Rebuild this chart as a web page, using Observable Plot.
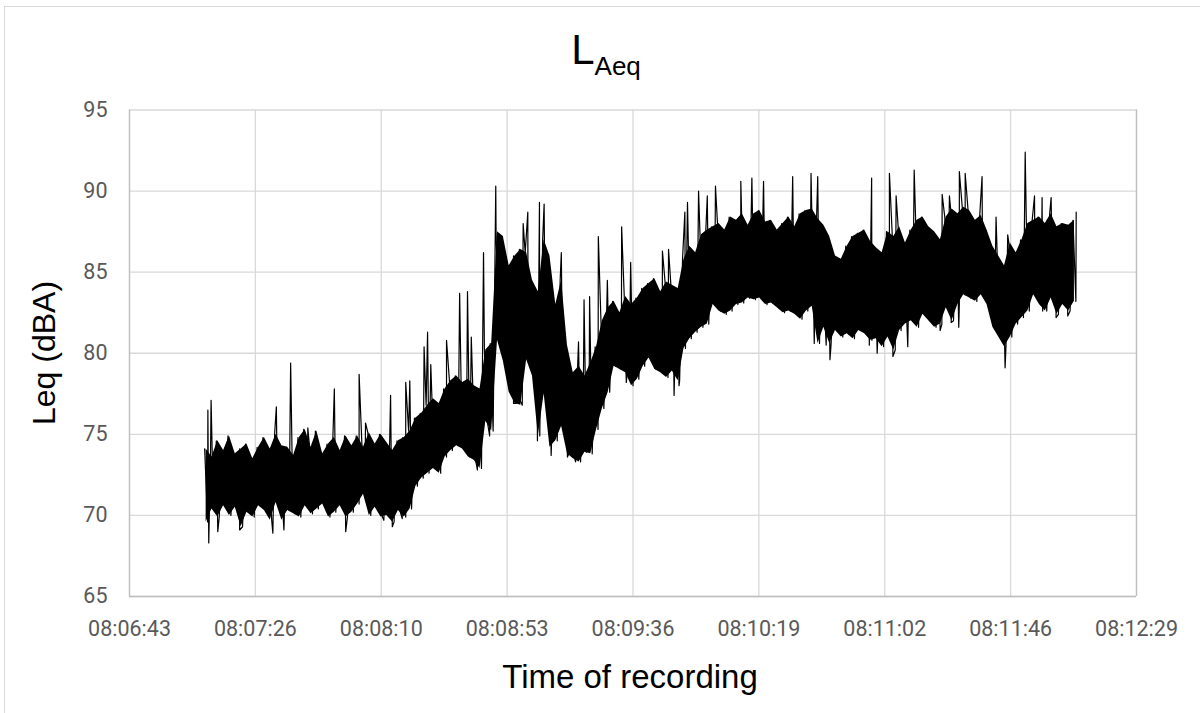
<!DOCTYPE html>
<html>
<head>
<meta charset="utf-8">
<script src="https://cdn.jsdelivr.net/npm/d3@7"></script>
<script src="https://cdn.jsdelivr.net/npm/@observablehq/plot@0.6"></script>
<style>
  html, body { margin: 0; padding: 0; background: #fff; overflow: hidden; }
  #wrap { position: relative; width: 1200px; height: 713px; overflow: hidden; }
  #border { position: absolute; left: 4px; top: 6px; width: 1400px; height: 900px; border: 1px solid #d9d9d9; box-sizing: border-box; }
  #chart { position: absolute; left: 0; top: 0; }
  .ttl { position: absolute; font-family: "Liberation Sans", Arial, sans-serif; color: #000; line-height: 1; white-space: nowrap; }
  #title { left: 606px; top: 29px; transform: translateX(-50%); font-size: 42px; }
  #title span { font-size: 26px; position: relative; top: 11px; }
  #ytitle { left: 44px; top: 353px; transform: translate(-50%, -50%) rotate(-90deg); font-size: 32px; }
  #xtitle { left: 630px; top: 660px; transform: translateX(-50%); font-size: 33px; }
</style>
</head>
<body>
<div id="wrap">
  <div id="border"></div>
  <div id="chart"></div>
  <div id="title" class="ttl">L<span>Aeq</span></div>
  <div id="ytitle" class="ttl">Leq (dBA)</div>
  <div id="xtitle" class="ttl">Time of recording</div>
</div>
<script>
// ---- Data ----
// Axis (Excel day-fraction based) tick labels
const xTickLabels = ["08:06:43","08:07:26","08:08:10","08:08:53","08:09:36","08:10:19","08:11:02","08:11:46","08:12:29"];
const xAxisStartDays = 0.338;   // 08:06:43.2
const xAxisStepDays = 0.0005;   // 43.2 s
const yTicks = [65, 70, 75, 80, 85, 90, 95];

// Band of the noisy Leq trace: upper reach at start + 2i s, lower reach at start + 2i + 1 s
const bandStart = "08:07:09";
const bandStepSeconds = 2;
const upper = [
  74.1, 73.6, 74.6, 74.0, 74.9, 73.8, 74.1, 74.4, 73.5, 74.2, 74.8, 74.1, 75.0, 74.3, 74.2, 73.7,
  74.8, 75.3, 74.2, 75.2, 73.8, 74.4, 74.8, 74.0, 74.9, 74.3, 74.9, 74.2, 75.1, 74.4, 75.0,
  74.5, 74.0, 74.6, 74.8, 75.2, 76.0, 76.3, 76.8, 77.2, 76.9, 77.8, 78.3, 78.6, 78.2, 78.4, 78.0,
  77.8, 80.2, 80.6, 87.5, 87.2, 85.4, 86.0, 86.4, 86.2, 84.5, 83.8, 87.0, 86.0, 83.0, 84.5, 80.5,
  78.8, 79.2, 78.6, 79.4, 80.4, 82.0, 82.8, 83.2, 82.5, 83.5, 83.0, 83.4, 84.0, 84.3, 84.6, 83.8,
  84.4, 84.2, 84.0, 85.8, 86.6, 86.2, 87.3, 87.6, 87.8, 88.0, 87.6, 88.4, 88.2, 88.6, 87.9, 88.6,
  88.8, 88.1, 88.2, 87.6, 88.0, 88.4, 87.8, 88.6, 88.8, 88.9, 88.3, 87.9, 87.2, 86.0, 85.8, 86.6,
  87.2, 87.4, 87.6, 86.9, 86.5, 86.2, 87.5, 87.2, 87.8, 86.8, 87.6, 88.2, 88.4, 87.8, 87.5, 87.0,
  88.4, 88.9, 88.6, 89.0, 88.8, 88.2, 88.5, 87.6, 86.6, 86.0, 85.4, 86.8, 86.2, 87.0, 88.0, 88.2,
  88.4, 88.0, 88.6, 87.8, 88.0, 87.9, 88.2
];
const lower = [
  69.6, 70.4, 69.9, 70.6, 70.0, 70.5, 69.3, 70.2, 69.9, 70.6, 70.3, 69.7, 70.8, 69.7, 70.3, 70.1,
  69.9, 70.6, 70.1, 70.4, 70.7, 69.9, 70.2, 70.6, 69.9, 70.2, 70.7, 71.3, 70.0, 70.5, 69.9,
  70.0, 69.6, 70.3, 69.9, 70.4, 71.8, 72.3, 72.6, 72.9, 72.6, 73.6, 74.0, 74.3, 74.1, 73.6, 73.4,
  72.9, 75.8, 75.2, 80.8, 79.5, 77.6, 76.9, 76.8, 79.6, 78.6, 74.9, 77.5, 74.2, 74.6, 75.5, 73.8,
  73.5, 73.3, 73.9, 73.8, 75.3, 76.6, 77.6, 79.2, 79.0, 78.8, 78.0, 78.4, 79.2, 79.7, 79.0, 78.8,
  78.5, 78.9, 78.3, 80.3, 80.9, 81.3, 81.6, 81.8, 83.0, 82.6, 82.4, 82.6, 83.0, 83.1, 83.4, 83.3,
  83.4, 83.0, 83.1, 82.8, 82.5, 82.6, 82.4, 82.1, 82.6, 82.9, 80.6, 81.6, 80.6, 81.4, 81.0, 81.2,
  80.9, 81.4, 81.2, 80.8, 80.9, 80.4, 81.0, 80.2, 81.4, 81.8, 82.0, 81.6, 82.4, 82.0, 81.6, 81.8,
  82.8, 82.0, 83.0, 83.6, 83.4, 83.2, 83.6, 83.0, 81.6, 81.0, 80.4, 81.0, 81.8, 82.2, 82.6, 83.6,
  83.0, 82.6, 83.4, 82.4, 83.0, 82.6, 83.2
];

// Isolated spikes (time of recording, Leq dBA)
const spikeTimes = [
  "08:07:10.1","08:07:10.4","08:07:11.2","08:07:13.5","08:07:21.0","08:07:32.4","08:07:33.6","08:07:36.2",
  "08:07:38.5","08:07:44.4","08:07:53.5","08:07:57.4","08:08:02.0","08:08:04.2","08:08:10.5",
  "08:08:12.8","08:08:13.4","08:08:16.8","08:08:18.0","08:08:19.4","08:08:24.3","08:08:25.5","08:08:26.6",
  "08:08:30.0","08:08:32.0","08:08:36.5","08:08:39.2","08:08:40.5","08:08:42.6","08:08:44.7","08:08:46.8",
  "08:08:48.9","08:08:55.0","08:08:57.2","08:08:58.3","08:08:59.9","08:09:03.2","08:09:03.9","08:09:05.5",
  "08:09:07.9","08:09:11.4","08:09:13.5",
  "08:09:16.3","08:09:17.3","08:09:19.2","08:09:21.1","08:09:24.1","08:09:27.2","08:09:32.1","08:09:33.7",
  "08:09:35.2","08:09:46.1","08:09:48.2","08:09:50.1","08:09:51.8","08:09:53.8","08:09:54.7","08:09:58.5",
  "08:10:01.5","08:10:04.3","08:10:13.0","08:10:16.8",
  "08:10:20.8","08:10:30.8","08:10:37.1","08:10:38.2","08:10:39.4","08:10:42.3","08:10:43.6","08:10:57.1",
  "08:10:57.9","08:10:59.8","08:11:04.0","08:11:05.2","08:11:06.3","08:11:10.3","08:11:12.5",
  "08:11:21.4","08:11:22.1","08:11:24.6","08:11:25.2","08:11:27.8","08:11:28.0","08:11:30.0","08:11:35.8",
  "08:11:40.6","08:11:43.7","08:11:44.6","08:11:50.6","08:11:53.8","08:11:56.4","08:11:56.6","08:11:59.5",
  "08:12:01.2","08:12:05.2","08:12:08.1"
];
const spikeValues = [
  76.5, 68.3, 77.1, 69.0, 69.1, 68.9, 76.7, 69.1,
  79.4, 75.4, 77.8, 69.0, 78.7, 75.7, 69.7,
  77.4, 69.3, 69.8, 78.2, 78.3, 80.4, 81.3, 79.3,
  72.8, 80.8, 83.7, 83.8, 81.0, 72.8, 86.2, 74.9,
  90.3, 76.9, 77.1, 88.0, 88.7, 74.6, 89.3, 89.2,
  73.7, 86.2, 73.6,
  73.3, 80.7, 83.3, 83.5, 87.2, 84.5, 87.8, 78.2,
  85.6, 86.3, 86.4, 77.4, 78.0, 88.7, 89.3, 90.0,
  89.7, 90.3, 90.6, 90.8,
  90.6, 90.9, 91.1, 80.6, 90.9, 80.5, 79.6, 80.5,
  90.8, 80.0, 91.1, 79.8, 89.7, 80.4, 91.3,
  81.4, 89.8, 89.7, 81.9, 81.6, 91.2, 91.1, 90.9,
  88.4, 79.1, 87.3, 92.4, 89.7, 89.6, 82.6, 89.6,
  82.2, 82.3, 88.7
];

// ---- Build the chart ----
const toSec = s => { const [h, m, sec] = s.split(":"); return (+h) * 3600 + (+m) * 60 + (+sec); };
const xTickValues = xTickLabels.map((_, k) => (xAxisStartDays + k * xAxisStepDays) * 86400);
const labelOf = new Map(xTickValues.map((v, k) => [v, xTickLabels[k]]));

const t0 = toSec(bandStart);
const band = upper.map((u, i) => ({t: t0 + i * bandStepSeconds + 0.5, hi: u, lo: lower[i]}));
const points = [];
upper.forEach((v, i) => points.push({t: t0 + i * bandStepSeconds, v}));
lower.forEach((v, i) => points.push({t: t0 + i * bandStepSeconds + 1, v}));
spikeTimes.forEach((s, j) => points.push({t: toSec(s), v: spikeValues[j]}));
points.sort((a, b) => a.t - b.t);

const chart = Plot.plot({
  width: 1200,
  height: 713,
  marginLeft: 129,
  marginRight: 64,
  marginTop: 109.5,
  marginBottom: 117,
  style: {fontFamily: "Roboto, 'Open Sans', sans-serif", background: "transparent", overflow: "visible"},
  x: {type: "linear", domain: [xTickValues[0], xTickValues[xTickValues.length - 1]]},
  y: {domain: [65, 95]},
  marks: [
    Plot.gridY(yTicks, {stroke: "#d9d9d9", strokeOpacity: 1, strokeWidth: 1.3}),
    Plot.gridX(xTickValues, {stroke: "#d9d9d9", strokeOpacity: 1, strokeWidth: 1.3}),
    Plot.ruleY([65], {stroke: "#bfbfbf", strokeWidth: 1.3}),
    Plot.ruleX([xTickValues[0]], {stroke: "#bfbfbf", strokeWidth: 1.3}),
    Plot.ruleX([xTickValues[xTickValues.length - 1]], {stroke: "#bfbfbf", strokeWidth: 1.3}),
    Plot.areaY(band, {x: "t", y1: "lo", y2: "hi", fill: "#000"}),
    Plot.line(points, {x: "t", y: "v", stroke: "#000", strokeWidth: 1.2}),
    Plot.axisX(xTickValues, {tickSize: 0, tickPadding: 24, fontSize: 21.5, fill: "#595959", label: null, tickFormat: d => labelOf.get(d)}),
    Plot.axisY(yTicks, {tickSize: 0, tickPadding: 22, fontSize: 21.5, fill: "#595959", label: null})
  ]
});
document.getElementById("chart").appendChild(chart);
</script>
</body>
</html>
